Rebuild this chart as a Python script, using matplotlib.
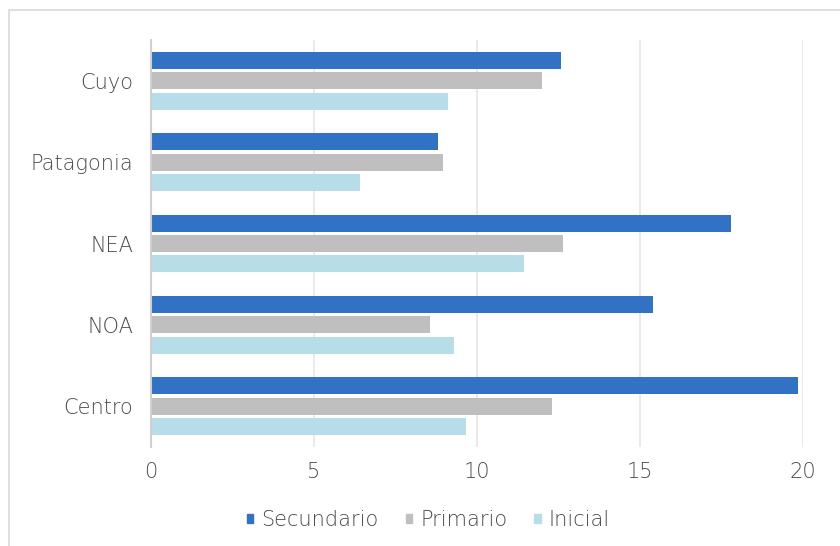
import matplotlib.pyplot as plt
import matplotlib.patches as mpatches
import numpy as np

# --- DATA ---
regions = ['Centro', 'NOA', 'NEA', 'Patagonia', 'Cuyo']
secundario = [19.85, 15.4, 17.8, 8.8, 12.58]
primario = [12.3, 8.55, 12.65, 8.95, 12.0]
inicial = [9.65, 9.3, 11.45, 6.4, 9.1]
series_names = ['Secundario', 'Primario', 'Inicial']
colors = ['#3172C4', '#BFBFBF', '#B7DDE8']

plt.rcParams['font.family'] = ['DejaVu Sans']
text_color = '#4A4A4A'

fig = plt.figure(figsize=(8.4, 5.46), dpi=100)
ax = fig.add_axes([151 / 840, 1 - 447 / 546, 652 / 840, 407 / 546])

# chart border
fig.patches.append(mpatches.Rectangle((9 / 840, -0.1), 1.2, 1 - 10 / 546 + 0.1,
                                      transform=fig.transFigure, fill=False,
                                      edgecolor='#D9D9D9', linewidth=1.2))

y = np.arange(len(regions))
h = 0.21
step = 0.25
for vals, off, c, name in zip([secundario, primario, inicial], [step, 0, -step], colors, series_names):
    ax.barh(y + off, vals, height=h, color=c, label=name, zorder=3)

ax.set_xlim(0, 20)
ax.set_ylim(-0.5, 4.5)
ax.set_xticks([0, 5, 10, 15, 20])
ax.set_yticks(y)
ax.set_yticklabels(regions)
ax.grid(axis='x', color='#E6E6E6', linewidth=1.2, zorder=0)
for s in ['top', 'right', 'bottom']:
    ax.spines[s].set_visible(False)
ax.spines['left'].set_color('#D0D0D0')
ax.spines['left'].set_linewidth(1.5)
ax.spines['left'].set_zorder(4)
ax.tick_params(axis='both', length=0, labelsize=15, colors=text_color)
ax.tick_params(axis='x', pad=11)
ax.tick_params(axis='y', pad=13)
for lbl in ax.get_xticklabels() + ax.get_yticklabels():
    lbl.set_fontweight('light')

handles = [mpatches.Patch(color=c) for c in colors]
fig.legend(handles, series_names, loc='center', bbox_to_anchor=(0.51, 1 - 520 / 546),
           ncol=3, frameon=False, prop={'size': 15, 'weight': 'light'},
           handlelength=0.3, handleheight=0.3,
           handletextpad=0.4, columnspacing=1.3, labelcolor=text_color)

plt.savefig('out.png', dpi=100)
